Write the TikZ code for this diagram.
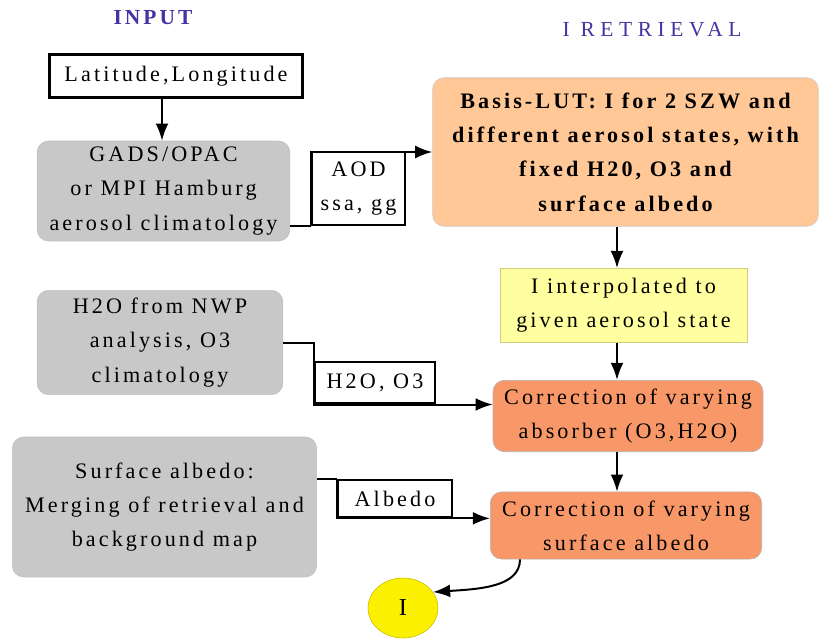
\documentclass[tikz,border=0pt]{standalone}
\usepackage{fontspec}
\setmainfont{Liberation Serif}[LetterSpace=14]
\usepackage{tikz}
\usetikzlibrary{positioning}
\usetikzlibrary{shapes.geometric}
\usetikzlibrary{arrows.meta}
\definecolor{titlecol}{RGB}{70,50,160}
\definecolor{boxgray}{RGB}{200,200,200}
\definecolor{lutcol}{RGB}{255,200,150}
\definecolor{corrcol}{RGB}{248,152,104}
\definecolor{interpcol}{RGB}{255,255,160}
\definecolor{outcol}{RGB}{250,240,0}

\begin{document}
\begin{tikzpicture}[x=0.7pt, y=-0.7pt,
    font=\fontsize{15.5}{24}\selectfont,
    graybox/.style={draw=black!25, fill=boxgray, rounded corners=8pt, align=center, inner sep=0pt},
    corrbox/.style={draw=black!30, fill=corrcol, rounded corners=8pt, align=center, inner sep=0pt},
    labelbox/.style={draw, line width=1.8pt, fill=white, align=center, inner sep=0pt},
    flow/.style={-{Latex[length=12pt,width=9pt]}, line width=1.4pt},
    link/.style={line width=1.4pt}]

    \useasboundingbox (0,0) rectangle (823,639);

    % Input side
    \node (latlon) [labelbox, minimum width=177pt, minimum height=30pt] at (176,76) {Latitude,Longitude};
    \node (gads) [graybox, minimum width=177pt, minimum height=70pt] at (163.5,191) {GADS/OPAC\\or MPI Hamburg\\aerosol climatology};
    \node (aod) [labelbox, minimum width=65pt, minimum height=51pt] at (358.5,188.5) {AOD\\ssa, gg};
    \node (h2o) [graybox, minimum width=172pt, minimum height=73pt] at (160,342.5) {H2O from NWP\\analysis, O3\\climatology};
    \node (h2oo3) [labelbox, minimum width=84pt, minimum height=29pt] at (375,382.5) {H2O, O3};
    \node (surf) [graybox, minimum width=213pt, minimum height=98pt] at (164.5,507) {Surface albedo:\\Merging of retrieval and\\background map};
    \node (alb) [labelbox, minimum width=80pt, minimum height=26pt] at (395,498.5) {Albedo};

    % Retrieval side
    \node (lut) [draw=black!20, fill=lutcol, rounded corners=8pt, align=center, inner sep=0pt, minimum width=270pt, minimum height=104pt, font=\fontsize{15.5}{24}\selectfont\bfseries] at (625.5,152) {Basis-LUT: I for 2 SZW and\\different aerosol states, with\\fixed H20, O3 and\\surface albedo};
    \node (interp) [draw=olive!40, fill=interpcol, align=center, inner sep=0pt, minimum width=173pt, minimum height=52pt] at (623.5,305.5) {I interpolated to\\given aerosol state};
    \node (corr1) [corrbox, minimum width=189pt, minimum height=50pt] at (628,416) {Correction of varying\\absorber (O3,H2O)};
    \node (corr2) [corrbox, minimum width=190pt, minimum height=47pt] at (626,525.5) {Correction of varying\\surface albedo};
    \node (out) [ellipse, draw=outcol!80!black, fill=outcol, minimum width=49pt, minimum height=42pt, font=\fontsize{17}{20}\selectfont] at (403,608) {I};

    % Titles
    \node (intitle) [text=titlecol, font=\fontsize{15}{17}\selectfont\bfseries] at (153,18) {INPUT};
    \node (rettitle) [text=titlecol, font=\fontsize{15}{17}\selectfont\addfontfeature{LetterSpace=26}] at (652,30) {I RETRIEVAL};

    % Arrows
    \draw[flow] (latlon.south -| 162,0) -- (gads.north -| 162,0);
    \draw[link] (gads.east |- aod.south west) -- (aod.south west);
    \draw[flow] (aod.south west) |- (lut.west);
    \draw[flow] (h2o.east) -| (h2oo3.south west) -- (corr1.west |- h2oo3.south west);
    \draw[link] (surf.east |- alb.north west) -- (alb.north west);
    \draw[flow] (alb.north west) -- (alb.south west) -- (corr2.west |- alb.south west);
    \draw[flow] (lut.south -| 617,0) -- (interp.north -| 617,0);
    \draw[flow] (interp.south -| 617,0) -- (corr1.north -| 617,0);
    \draw[flow] (corr1.south -| 617,0) -- (corr2.north -| 617,0);
    \draw[flow] ([xshift=21pt]corr2.south west) .. controls +(0,28) and +(45,-3) .. (out.28);

\end{tikzpicture}
\end{document}
